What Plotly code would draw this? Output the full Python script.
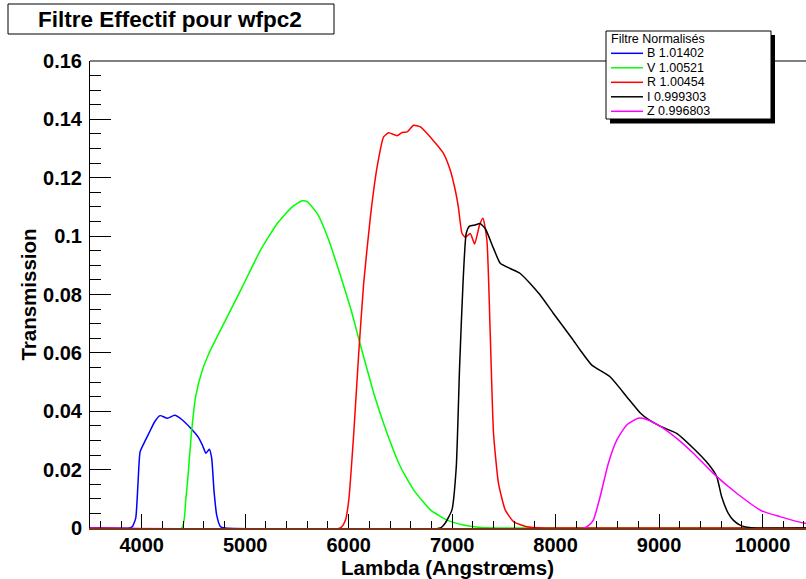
import plotly.graph_objects as go

# ---------------- data ----------------
lam_B = [3500, 3880, 3910, 3942, 3964, 3984, 4022, 4070, 4125, 4177, 4248, 4318, 4393, 4473,
         4543, 4586, 4621, 4653, 4676, 4698, 4724, 4762, 4800, 10500]
T_B = [0, 0, 0.0005, 0.0034, 0.0154, 0.0261, 0.0291, 0.0325, 0.0364, 0.0385, 0.0376, 0.0386,
       0.0370, 0.0342, 0.0313, 0.0284, 0.0256, 0.0270, 0.0239, 0.0130, 0.0045, 0.0004, 0, 0]

lam_V = [3500, 4386, 4425, 4447, 4480, 4521, 4586, 4649, 4794, 4972, 5148, 5310, 5454, 5551,
         5599, 5696, 5808, 5921, 6033, 6114, 6203, 6243, 6372, 6500, 6629, 6790, 6951, 7111,
         7272, 7600, 10500]
T_V = [0, 0, 0.0096, 0.0176, 0.0324, 0.0450, 0.0541, 0.0598, 0.0701, 0.0826, 0.0952, 0.1043,
       0.1100, 0.1121, 0.1118, 0.1078, 0.0986, 0.0864, 0.0735, 0.0626, 0.0512, 0.0461, 0.0324,
       0.0210, 0.0130, 0.0062, 0.0027, 0.0010, 0.0002, 0, 0]

lam_R = [3500, 5920, 5969, 6001, 6049, 6097, 6145, 6210, 6275, 6338, 6387, 6468, 6516, 6564,
         6628, 6693, 6773, 6854, 6917, 6982, 7030, 7060, 7095, 7127, 7175, 7217, 7265, 7298,
         7336, 7368, 7400, 7448, 7513, 7593, 7722, 7900, 10500]
T_R = [0, 0, 0.0027, 0.0096, 0.0324, 0.0598, 0.0838, 0.1066, 0.1237, 0.1340, 0.1354, 0.1344,
       0.1355, 0.1357, 0.1380, 0.1374, 0.1346, 0.1312, 0.1283, 0.1226, 0.1158, 0.1100, 0.1010,
       0.0996, 0.1009, 0.0973, 0.1038, 0.1061, 0.0986, 0.0667, 0.0324, 0.0153, 0.0062, 0.0022,
       0.0004, 0, 0]

lam_I = [3500, 6886, 6934, 6998, 7040, 7072, 7105, 7136, 7168, 7223, 7270, 7320, 7400, 7465,
         7561, 7658, 7754, 7851, 7979, 8157, 8237, 8350, 8526, 8687, 8816, 8896, 9009, 9170,
         9331, 9476, 9557, 9605, 9669, 9717, 9782, 9910, 10500]
T_I = [0, 0, 0.0017, 0.0062, 0.0210, 0.0552, 0.0838, 0.1009, 0.1034, 0.1038, 0.1043, 0.1026,
       0.0958, 0.0907, 0.0889, 0.0872, 0.0838, 0.0798, 0.0735, 0.0650, 0.0610, 0.0558, 0.0518,
       0.0450, 0.0395, 0.0372, 0.0349, 0.0324, 0.0273, 0.0219, 0.0176, 0.0107, 0.0050, 0.0027,
       0.0010, 0, 0]

lam_Z = [3500, 8280, 8323, 8365, 8430, 8510, 8591, 8687, 8799, 8880, 9009, 9170, 9331, 9524,
         9750, 9990, 10167, 10408, 10500]
T_Z = [0, 0, 0.0010, 0.0027, 0.0107, 0.0222, 0.0301, 0.0353, 0.0376, 0.0372, 0.0349, 0.0307,
       0.0256, 0.0187, 0.0119, 0.0059, 0.0039, 0.0016, 0.0012]

series_labels = ["B 1.01402", "V 1.00521", "R 1.00454", "I 0.999303", "Z 0.996803"]
series_colors = ["#0000ff", "#00ff00", "#ff0000", "#000000", "#ff00ff"]
legend_title = "Filtre Normalisés"
chart_title = "Filtre Effectif pour wfpc2"
x_title = "Lambda (Angstrœms)"
y_title = "Transmission"

# ---------------- figure ----------------
W, H = 806, 579
ML, MR, MT, MB = 90, 0, 61, 51
PW, PH = W - ML - MR, H - MT - MB


def px(x):
    return (x - ML) / PW


def py(y):
    return (H - MB - y) / PH


FONT = "Liberation Sans, Arial, Helvetica, sans-serif"

fig = go.Figure()
for lam, T, c, name in zip([lam_B, lam_V, lam_R, lam_I, lam_Z],
                           [T_B, T_V, T_R, T_I, T_Z], series_colors, series_labels):
    fig.add_trace(go.Scatter(x=lam, y=T, mode="lines", name=name,
                             line=dict(color=c, width=1.5, shape="spline", smoothing=0.5),
                             showlegend=False, hoverinfo="skip"))

shapes = []
annotations = []

# top frame line
shapes.append(dict(type="line", xref="paper", yref="paper", x0=0, x1=1, y0=1, y1=1,
                   line=dict(color="black", width=1)))

# title box
shapes.append(dict(type="rect", xref="paper", yref="paper",
                   x0=px(8), x1=px(334), y0=py(34), y1=py(4),
                   line=dict(color="black", width=1), fillcolor="white"))
annotations.append(dict(text=chart_title, xref="paper", yref="paper",
                        x=px(170), y=py(19.5), xanchor="center", yanchor="middle",
                        showarrow=False,
                        font=dict(family=FONT, size=22.5, color="black", weight="bold")))

# legend box with shadow
shapes.append(dict(type="rect", xref="paper", yref="paper",
                   x0=px(610), x1=px(775), y0=py(123.5), y1=py(35),
                   line=dict(width=0), fillcolor="black"))
shapes.append(dict(type="rect", xref="paper", yref="paper",
                   x0=px(606), x1=px(771), y0=py(119), y1=py(31),
                   line=dict(color="black", width=1), fillcolor="white"))
annotations.append(dict(text=legend_title, xref="paper", yref="paper",
                        x=px(609), y=py(38.5), xanchor="left", yanchor="middle",
                        showarrow=False,
                        font=dict(family=FONT, size=12.5, color="black")))
entry_y = [53.3, 67.8, 82.3, 96.8, 111.3]
for ey, c, lab in zip(entry_y, series_colors, series_labels):
    shapes.append(dict(type="line", xref="paper", yref="paper",
                       x0=px(611), x1=px(643), y0=py(ey), y1=py(ey),
                       line=dict(color=c, width=1.5)))
    annotations.append(dict(text=lab, xref="paper", yref="paper",
                            x=px(645), y=py(ey), xanchor="left", yanchor="middle",
                            showarrow=False,
                            font=dict(family=FONT, size=12.5, color="black")))

# x axis title
titlefont = dict(family=FONT, size=20.5, color="black", weight="bold")
annotations.append(dict(text=x_title, xref="paper", yref="paper",
                        x=px(447), y=py(567.5), xanchor="center", yanchor="middle",
                        showarrow=False, font=titlefont))

tickfont = dict(family=FONT, size=20, color="black", weight="bold")

fig.update_layout(
    width=W, height=H,
    margin=dict(l=ML, r=MR, t=MT, b=MB, pad=0),
    paper_bgcolor="white", plot_bgcolor="white",
    showlegend=False,
    shapes=shapes, annotations=annotations,
    xaxis=dict(range=[3500, 10420], dtick=1000, tick0=0, tickformat="d",
               ticks="inside", ticklen=14, tickwidth=1, tickcolor="black",
               minor=dict(dtick=200, tick0=0, ticks="inside", ticklen=7,
                          tickwidth=1, tickcolor="black", showgrid=False),
               showgrid=False, zeroline=False,
               showline=True, linecolor="#7a3418", linewidth=2, mirror=False,
               tickfont=tickfont, ticklabelstandoff=-2,
               automargin=False),
    yaxis=dict(range=[0, 0.16], dtick=0.02, tick0=0,
               ticks="inside", ticklen=21, tickwidth=1, tickcolor="black",
               minor=dict(dtick=0.005, tick0=0, ticks="inside", ticklen=11,
                          tickwidth=1, tickcolor="black", showgrid=False),
               showgrid=False, zeroline=False,
               showline=True, linecolor="black", linewidth=1, mirror=False,
               tickfont=tickfont, ticklabelstandoff=3,
               title=dict(text=y_title, font=titlefont, standoff=0),
               automargin=False),
)

fig.write_html("out.html", config={"displayModeBar": False},
               post_script="document.body.style.margin='0px';document.body.style.padding='0px';")
